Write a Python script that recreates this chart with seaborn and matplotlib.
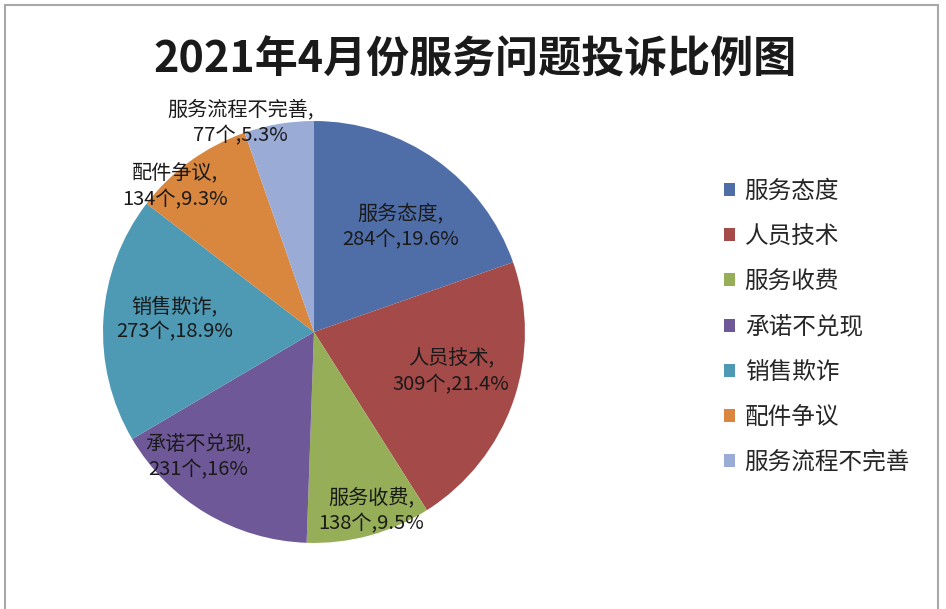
import numpy as np
import seaborn as sns
import matplotlib.pyplot as plt
from matplotlib.patches import Rectangle

# 数据
categories = ['服务态度', '人员技术', '服务收费', '承诺不兑现', '销售欺诈', '配件争议', '服务流程不完善']
counts = [284, 309, 138, 231, 273, 134, 77]
pct_labels = ['19.6%', '21.4%', '9.5%', '16%', '18.9%', '9.3%', '5.3%']

colors = ['#4F6EA8', '#A44A48', '#95AE57', '#6E5898', '#4E9AB4', '#D9873E', '#9AABD6']

# 标签位置 (饼图数据坐标)
label_pos = [(0.41, 0.50), (0.65, -0.19), (0.27, -0.85), (-0.55, -0.59),
             (-0.66, 0.06), (-0.66, 0.69), (-0.35, 0.99)]

sns.set_theme(style='white')
plt.rcParams['font.family'] = ['Noto Sans CJK SC', 'DejaVu Sans']
palette = sns.color_palette(colors)

fig = plt.figure(figsize=(9.46, 6.09), dpi=100)
fig.patch.set_facecolor('white')

# 外框
fig.patches.append(Rectangle((0.0053, -0.05), 0.9862, 1.0418, transform=fig.transFigure,
                             fill=False, edgecolor='#A8A8A8', linewidth=1.5))

ax = fig.add_axes([0.1089, 0.1084, 0.446, 0.693])
wedges, _ = ax.pie(counts, colors=palette, startangle=90, counterclock=False,
                   radius=1, wedgeprops=dict(linewidth=0))
ax.set_xlim(-1, 1)
ax.set_ylim(-1, 1)
ax.axis('off')

for i, (x, y) in enumerate(label_pos):
    ax.text(x, y, '{},\n{}个,{}'.format(categories[i], counts[i], pct_labels[i]),
            ha='center', va='center', fontsize=14.5, color='#1a1a1a', linespacing=1.3)

fig.text(0.502, 0.903, '2021年4月份服务问题投诉比例图', ha='center', va='center',
         fontsize=31, fontweight='bold', color='#1a1a1a')

fig.legend(wedges, categories, loc='upper left', bbox_to_anchor=(0.755, 0.72),
           frameon=False, fontsize=17, handlelength=0.47, handleheight=0.47,
           handletextpad=0.42, labelspacing=0.94, borderaxespad=0)

fig.savefig('out.png', dpi=100)
